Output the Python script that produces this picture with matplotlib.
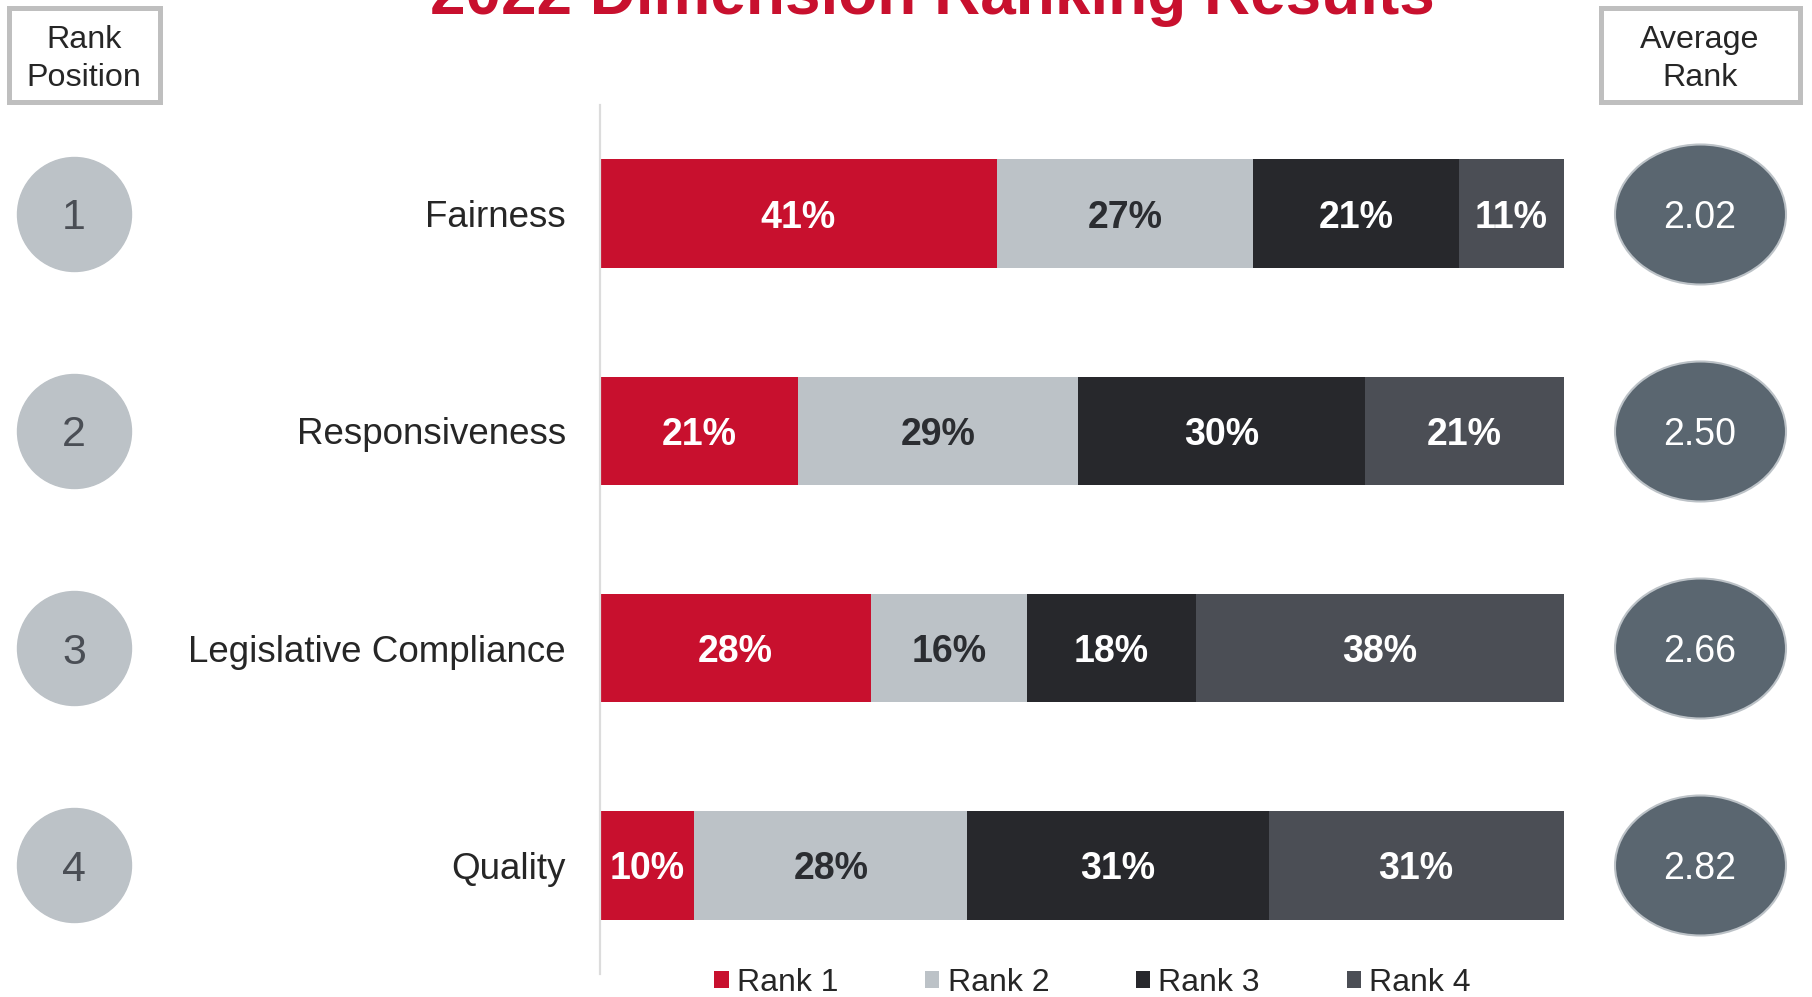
import matplotlib.pyplot as plt
from matplotlib.patches import Rectangle
from matplotlib.path import Path
from matplotlib.transforms import Affine2D

# ---- data ----
categories = ['Fairness', 'Responsiveness', 'Legislative Compliance', 'Quality']
rank_positions = [1, 2, 3, 4]
average_rank = [2.02, 2.50, 2.66, 2.82]

series_names = ['Rank 1', 'Rank 2', 'Rank 3', 'Rank 4']
rank1 = [41.2, 20.6, 28.1, 9.8]
rank2 = [26.6, 29.0, 16.2, 28.3]
rank3 = [21.4, 29.8, 17.6, 31.3]
rank4 = [10.8, 20.6, 38.1, 30.6]

colors = ['#C8102E', '#BCC2C7', '#27282C', '#4B4E55']
label_colors = ['white', '#2B2D31', 'white', 'white']

# ---- figure ----
plt.rcParams['font.family'] = ['Liberation Sans', 'DejaVu Sans']
fig = plt.figure(figsize=(18.12, 9.97), dpi=100)
ax = fig.add_axes([600 / 1812, 1 - 974 / 997, 963.5 / 1812, 869 / 997])

ypos = list(range(len(categories)))
lefts = [0.0] * len(categories)
for name, vals, col, tcol in zip(series_names, [rank1, rank2, rank3, rank4],
                                 colors, label_colors):
    ax.barh(ypos, vals, left=lefts, height=0.5, color=col, label=name)
    for y, v, l in zip(ypos, vals, lefts):
        ax.text(l + v / 2, y, f'{v:.0f}%', ha='center', va='center_baseline',
                color=tcol, fontsize=27, fontweight='bold')
    lefts = [l + v for l, v in zip(lefts, vals)]

ax.set_xlim(0, 100)
ax.set_ylim(3.5, -0.5)
ax.set_xticks([])
ax.set_yticks(ypos, categories)
ax.tick_params(axis='y', length=0, pad=24.5, labelsize=26.5, labelcolor='#262626')
for s in ['top', 'right', 'bottom']:
    ax.spines[s].set_visible(False)
ax.spines['left'].set_color('#DCDCDC')
ax.spines['left'].set_linewidth(1.6)

# ---- rank position circles (left) and average rank ellipses (right) ----
tr = ax.get_yaxis_transform()
ax.scatter([-0.546] * 4, ypos, s=(114 * 0.72) ** 2, color='#BCC2C7',
           transform=tr, clip_on=False, zorder=3)
for y, r in zip(ypos, rank_positions):
    ax.text(-0.546, y, str(r), transform=tr, ha='center', va='center_baseline',
            fontsize=31, color='#4A4E55')

ellipse = Path.unit_circle().transformed(Affine2D().scale(1.0, 140 / 171))
ax.scatter([1.1417] * 4, ypos, s=(171 * 0.72) ** 2, marker=ellipse,
           color='#5A6670', edgecolor='#BCC2C7', linewidth=1.5,
           transform=tr, clip_on=False, zorder=3)
for y, a in zip(ypos, average_rank):
    ax.text(1.1417, y, f'{a:.2f}', transform=tr, ha='center', va='center_baseline',
            fontsize=27, color='white')

# ---- header boxes ----
fig.patches.append(Rectangle((8.5 / 1812, 1 - 102.5 / 997), 151 / 1812, 94 / 997,
                             transform=fig.transFigure, fill=False,
                             edgecolor='#BFBFBF', linewidth=3.6))
fig.text(84 / 1812, 1 - 59 / 997, 'Rank\nPosition', ha='center', va='center',
         fontsize=23.2, linespacing=1.36, color='#262626')
fig.patches.append(Rectangle((1600.5 / 1812, 1 - 102.5 / 997), 199 / 1812, 94 / 997,
                             transform=fig.transFigure, fill=False,
                             edgecolor='#BFBFBF', linewidth=3.6))
fig.text(1700 / 1812, 1 - 59 / 997, 'Average\nRank', ha='center', va='center',
         fontsize=23.2, linespacing=1.36, color='#262626')

# ---- title (cut at the top, as in the source) ----
fig.text(932.5 / 1812, 1 - 14 / 997, '2022 Dimension Ranking Results',
         ha='center', va='baseline', fontsize=46, fontweight='bold',
         color='#C8102E')

# ---- legend ----
ax.legend(loc='center', bbox_to_anchor=(1092.5 / 1812, 0.0145),
          bbox_transform=fig.transFigure, ncol=4, frameon=False,
          fontsize=23, handlelength=0.45, handleheight=0.45,
          handletextpad=0.26, columnspacing=2.71, borderpad=0,
          labelcolor='#262626')

fig.savefig('out.png', dpi=100)
